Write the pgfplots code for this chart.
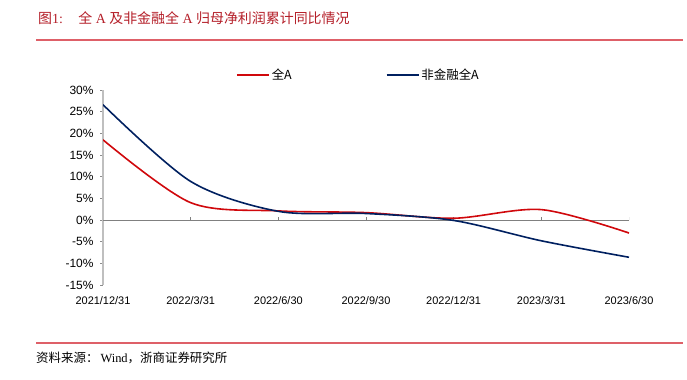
\documentclass[border=0pt]{standalone}
\usepackage{fontspec}
\setmainfont{Liberation Sans}
\newfontfamily\cjk{Noto Sans CJK SC}
\newfontfamily\serif{Liberation Serif}
\usepackage{pgfplots}
\pgfplotsset{compat=1.18}
\definecolor{seriesred}{RGB}{208,8,12}
\definecolor{seriesnavy}{RGB}{0,32,96}
\definecolor{titlered}{RGB}{180,30,40}
\definecolor{rulered}{RGB}{222,96,104}
\begin{document}
\begin{tikzpicture}
\path[use as bounding box] (0bp,0bp) rectangle (687bp,380bp);
\node[anchor=base west, inner sep=0pt, text=titlered, font=\fontsize{14}{16}\selectfont] at (38bp,356bp) {{\cjk 图}\serif 1:\hspace{1.1em}{\cjk 全}\ \serif A\ {\cjk 及非金融全}\ \serif A\ {\cjk 归母净利润累计同比情况}};
\draw[rulered, line width=1.5bp] (36bp,340bp) -- (683bp,340bp);
\draw[rulered, line width=1.5bp] (36bp,37bp) -- (683bp,37bp);
\node[anchor=base west, inner sep=0pt, font=\fontsize{12.5}{14}\selectfont] at (36bp,18bp) {{\cjk 资料来源：}{\serif\,Wind}{\cjk ，浙商证券研究所}};
\begin{axis}[
  at={(103bp,95bp)}, anchor=south west,
  scale only axis, width=526bp, height=195bp,
  xmin=0, xmax=6, ymin=-15, ymax=30,
  xtick={0,...,6},
  xticklabels={2021/12/31,2022/3/31,2022/6/30,2022/9/30,2022/12/31,2023/3/31,2023/6/30},
  ytick={-15,-10,...,30},
  yticklabels={-15\%,-10\%,-5\%,0\%,5\%,10\%,15\%,20\%,25\%,30\%},
  axis y line*=left, axis x line*=bottom,
  x axis line style={draw=none}, x tick style={draw=none},
  y axis line style={draw=black!25, line width=1.5bp},
  y tick style={draw=black!45, line width=0.6bp},
  tick align=outside, major tick length=3bp,
  x tick label style={font=\fontsize{11}{12}\selectfont, yshift=-5bp},
  y tick label style={font=\fontsize{12}{13}\selectfont, xshift=-3bp},
  /pgf/number format/assume math mode=true,
  legend style={at={(axis description cs:0.4857,1.077)}, anchor=center, draw=none, fill=none,
    legend columns=2, font=\cjk\fontsize{12.5}{14}\selectfont,
    /tikz/every even column/.append style={column sep=92bp}},
  legend image code/.code={\draw[#1] (0bp,0bp) -- (32bp,0bp);},
]
\draw[black!50, line width=0.8bp] (axis cs:0,0) -- (axis cs:6,0);
\pgfplotsinvokeforeach{1,...,6}{\draw[black!50, line width=0.6bp] (axis cs:#1,0) -- ([yshift=3bp]axis cs:#1,0);}
\addplot[seriesred, line width=1.6bp, smooth] coordinates {(0,18.5)(1,4.0)(2,2.1)(3,1.7)(4,0.4)(5,2.4)(6,-3.0)};
\addlegendentry{全A}
\addplot[seriesnavy, line width=1.6bp, smooth] coordinates {(0,26.6)(1,8.9)(2,2.0)(3,1.5)(4,-0.1)(5,-4.8)(6,-8.6)};
\addlegendentry{非金融全A}
\end{axis}
\end{tikzpicture}
\end{document}
